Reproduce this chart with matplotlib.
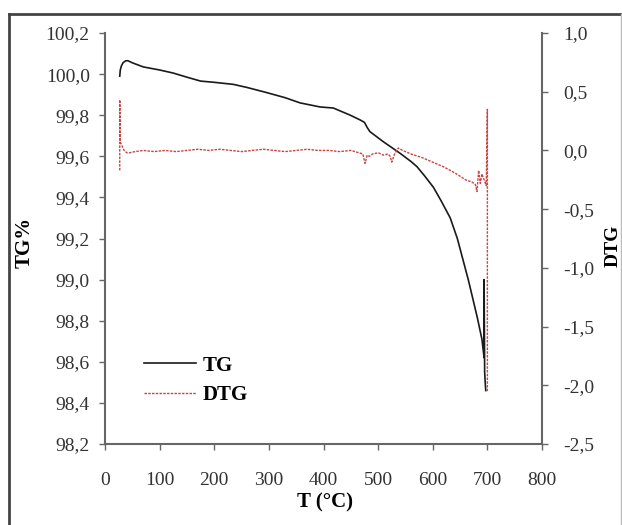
import matplotlib
matplotlib.use("Agg")
import matplotlib.pyplot as plt
from matplotlib.lines import Line2D
from matplotlib.ticker import FuncFormatter

# TG curve (left axis)
temp_tg = [27, 28, 30, 33, 38, 42, 50, 60, 70, 80, 100, 125, 150, 175, 200,
           235, 260, 296, 330, 357, 394, 418, 449, 467, 475, 480, 485, 490,
           495, 510, 540, 560, 571, 585, 601, 615, 632, 645, 656, 665, 674,
           682, 690, 694, 694, 695, 696, 697]
tg = [99.99, 100.02, 100.04, 100.055, 100.065, 100.065, 100.055, 100.045,
      100.035, 100.03, 100.02, 100.005, 99.985, 99.966, 99.96, 99.95, 99.935,
      99.91, 99.885, 99.86, 99.84, 99.835, 99.80, 99.777, 99.765, 99.74,
      99.72, 99.71, 99.70, 99.67, 99.615, 99.575, 99.55, 99.505, 99.45,
      99.385, 99.30, 99.20, 99.09, 99.00, 98.90, 98.81, 98.71, 98.62, 99.00,
      98.55, 98.50, 98.46]

# DTG curve (right axis)
temp_dtg = [27, 27, 28, 30, 35, 40, 45, 55, 70, 90, 110, 130, 150, 170, 190,
            210, 230, 250, 270, 290, 310, 330, 350, 370, 390, 410, 430, 450,
            465, 472, 476, 480, 484, 490, 500, 510, 518, 522, 525, 530, 537,
            545, 560, 580, 600, 620, 640, 660, 672, 678, 681, 684, 687, 690,
            694, 698, 700, 700]
dtg = [-0.17, 0.43, 0.07, 0.05, 0.0, -0.02, -0.02, -0.01, 0.0, -0.01, 0.0,
       -0.01, 0.0, 0.01, 0.0, 0.01, 0.0, -0.01, 0.0, 0.01, 0.0, -0.01, 0.0,
       0.01, 0.0, 0.0, -0.01, 0.0, -0.02, -0.03, -0.11, -0.04, -0.05, -0.03,
       -0.02, -0.04, -0.03, -0.05, -0.10, -0.03, 0.02, 0.0, -0.03, -0.06,
       -0.10, -0.14, -0.19, -0.25, -0.27, -0.29, -0.35, -0.17, -0.28, -0.20,
       -0.25, -0.30, 0.35, -2.05]

x_ticks = [0, 100, 200, 300, 400, 500, 600, 700, 800]
tg_ticks = [98.2, 98.4, 98.6, 98.8, 99.0, 99.2, 99.4, 99.6, 99.8, 100.0, 100.2]
dtg_ticks = [-2.5, -2.0, -1.5, -1.0, -0.5, 0.0, 0.5, 1.0]

plt.rcParams['font.family'] = ['Liberation Serif', 'DejaVu Serif']
spine_col = '#666666'

fig = plt.figure(figsize=(6.22, 5.25), dpi=100)
ax = fig.add_axes([105 / 622, 81 / 525, 437 / 622, 411 / 525])
ax2 = ax.twinx()

ax.plot(temp_tg, tg, color='#1a1a1a', lw=1.2, label='TG')
ax2.plot(temp_dtg, dtg, color='#c84444', lw=1.0, dashes=(1.8, 0.9), label='DTG')

ax.set_xlim(0, 800)
ax.set_ylim(98.2, 100.2)
ax2.set_ylim(-2.5, 1.0)
ax.set_xticks(x_ticks)
ax.set_yticks(tg_ticks)
ax2.set_yticks(dtg_ticks)

comma = lambda d: FuncFormatter(lambda v, p: f"{v:.{d}f}".replace('.', ','))
ax.yaxis.set_major_formatter(comma(1))
ax2.yaxis.set_major_formatter(comma(1))

for s in ['top', 'right']:
    ax.spines[s].set_visible(False)
for s in ['top', 'left', 'bottom']:
    ax2.spines[s].set_visible(False)
for s in ['left', 'bottom']:
    ax.spines[s].set_color(spine_col)
    ax.spines[s].set_linewidth(1.5)
ax2.spines['right'].set_color(spine_col)
ax2.spines['right'].set_linewidth(1.5)

ax.tick_params(axis='x', direction='out', length=4, width=1, color=spine_col,
               pad=16, labelsize=14, labelcolor='#333333')
ax.tick_params(axis='y', direction='out', length=4, width=1, color=spine_col,
               pad=7, labelsize=14, labelcolor='#333333')
ax2.tick_params(axis='y', direction='out', length=4, width=1, color=spine_col,
                pad=11, labelsize=14, labelcolor='#333333')

ax.set_xlabel('T (°C)', fontsize=15, fontweight='bold')
ax.xaxis.set_label_coords(0.503, -0.119)
ax.set_ylabel('TG%', fontsize=15, fontweight='bold')
ax.yaxis.set_label_coords(-0.160, 0.49)
ax2.set_ylabel('DTG', fontsize=14, fontweight='bold')
ax2.yaxis.set_label_coords(1.143, 0.482)

h1, l1 = ax.get_legend_handles_labels()
h2, l2 = ax2.get_legend_handles_labels()
leg = ax2.legend(h1 + h2, l1 + l2, loc='upper left', bbox_to_anchor=(0.065, 0.24),
                 frameon=False, borderpad=0, handlelength=2.5, handletextpad=0.3,
                 labelspacing=0.45, prop={'size': 15, 'weight': 'bold'})

# outer frame of the figure
top = 1 - 14 / 525
fig.add_artist(Line2D([9 / 622, 9 / 622], [0, top], color='#444444', lw=2))
fig.add_artist(Line2D([9 / 622, 621 / 622], [top, top], color='#444444', lw=2))
fig.add_artist(Line2D([621 / 622, 621 / 622], [0, top], color='#bbbbbb', lw=1))

fig.savefig('out.png', dpi=100)
